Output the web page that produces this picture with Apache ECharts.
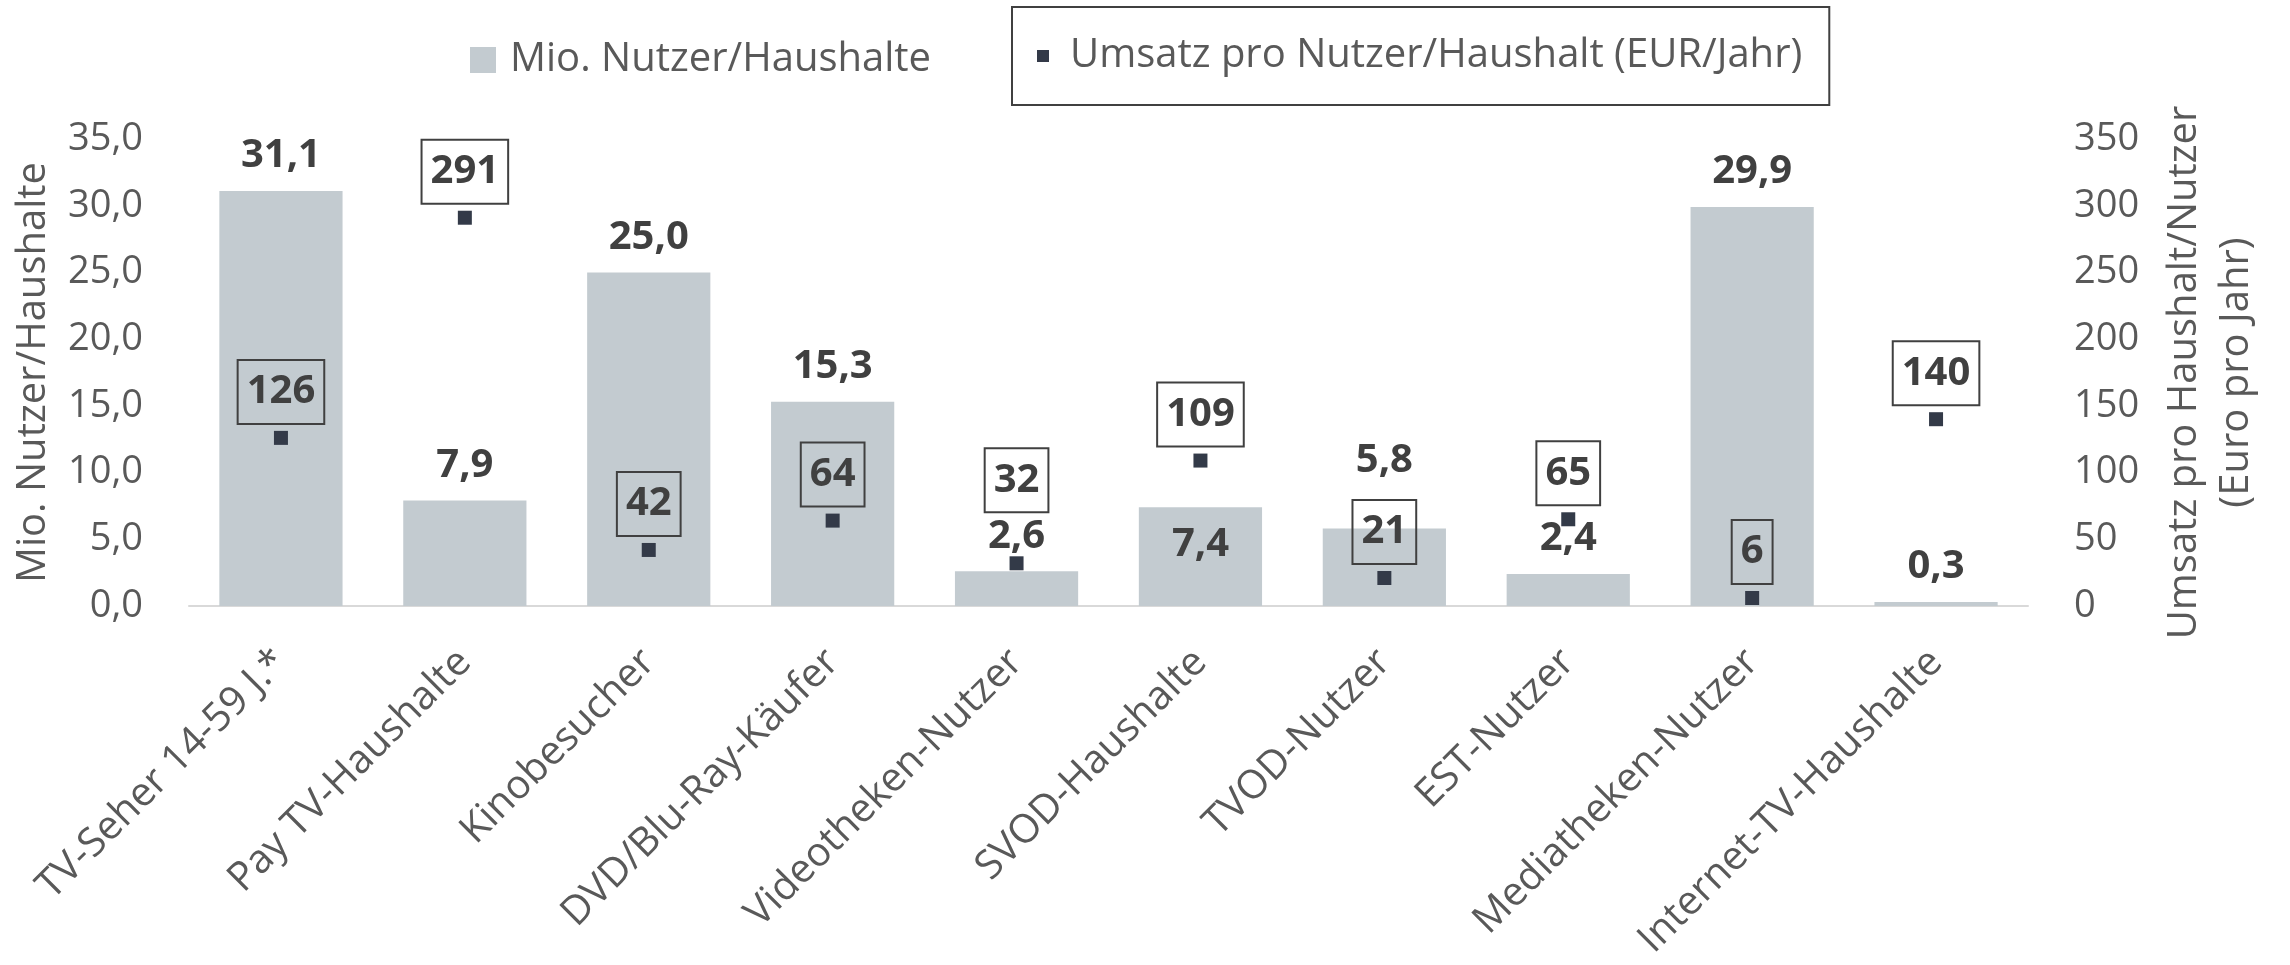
<!DOCTYPE html>
<html>
<head>
<meta charset="utf-8">
<script src="https://cdn.jsdelivr.net/npm/echarts@6/dist/echarts.min.js"></script>
<style>
html,body{margin:0;padding:0;background:#fff;}
#chart{width:2290px;height:965px;}
</style>
</head>
<body>
<div id="chart"></div>
<script>
const categories = ['TV-Seher 14-59 J.*', 'Pay TV-Haushalte', 'Kinobesucher', 'DVD/Blu-Ray-Käufer', 'Videotheken-Nutzer', 'SVOD-Haushalte', 'TVOD-Nutzer', 'EST-Nutzer', 'Mediatheken-Nutzer', 'Internet-TV-Haushalte'];
const users = [31.1, 7.9, 25.0, 15.3, 2.6, 7.4, 5.8, 2.4, 29.9, 0.3];
const revenue = [126, 291, 42, 64, 32, 109, 21, 65, 6, 140];
const leftTicks = { min: 0, max: 35, interval: 5 };
const rightTicks = { min: 0, max: 350, interval: 50 };
const seriesNames = ['Mio. Nutzer/Haushalte', 'Umsatz pro Nutzer/Haushalt (EUR/Jahr)'];
const axisNames = ['Mio. Nutzer/Haushalte', 'Umsatz pro Haushalt/Nutzer\n(Euro pro Jahr)'];

const FONT = 'Open Sans';
const AXIS_COLOR = '#595959';
const LABEL_COLOR = '#404040';
const BAR_COLOR = '#c3cbd0';
const MARK_COLOR = '#333a48';

// label placement overrides (style only)
const barLabelOverrides = {
  5: { position: 'insideTop', distance: 17 },
  6: { position: 'top', distance: 48 }
};
const markLabelOverrides = {
  4: { distance: 44 }
};

const fmt1 = v => v.toFixed(1).replace('.', ',');

const barData = users.map((v, i) => {
  const o = { value: v };
  if (barLabelOverrides[i]) o.label = barLabelOverrides[i];
  return o;
});
const markData = revenue.map((v, i) => {
  const o = { value: v };
  if (markLabelOverrides[i]) o.label = markLabelOverrides[i];
  return o;
});

const chart = echarts.init(document.getElementById('chart'), null, { renderer: 'canvas' });
chart.setOption({
  animation: false,
  backgroundColor: '#ffffff',
  textStyle: { fontFamily: FONT },
  grid: { left: 189, right: 262, top: 139, bottom: 359, containLabel: false },
  legend: [
    {
      data: [{ name: seriesNames[0], icon: 'rect' }],
      left: 470, top: 40, padding: 0,
      itemWidth: 26, itemHeight: 26,
      textStyle: { fontFamily: FONT, fontSize: 40, color: AXIS_COLOR, padding: [0, 0, 0, 9] },
      selectedMode: false
    },
    {
      data: [{ name: seriesNames[1], icon: 'rect' }],
      left: 1012, top: 7, padding: [29, 27, 29, 25],
      borderColor: '#404040', borderWidth: 2,
      itemWidth: 12, itemHeight: 12,
      itemStyle: { opacity: 1 },
      textStyle: { fontFamily: FONT, fontSize: 40, color: AXIS_COLOR, padding: [0, 0, 0, 16] },
      selectedMode: false
    }
  ],
  xAxis: {
    type: 'category',
    data: categories,
    axisLine: { show: true, lineStyle: { color: '#d9d9d9', width: 2 } },
    axisTick: { show: false },
    axisLabel: {
      interval: 0, rotate: 45, margin: 50,
      fontFamily: FONT, fontSize: 40, color: AXIS_COLOR
    }
  },
  yAxis: [
    {
      type: 'value', position: 'left',
      min: leftTicks.min, max: leftTicks.max, interval: leftTicks.interval,
      splitLine: { show: false }, axisLine: { show: false }, axisTick: { show: false },
      axisLabel: { margin: 46, fontFamily: FONT, fontSize: 38, color: AXIS_COLOR, formatter: v => fmt1(v) },
      name: axisNames[0], nameLocation: 'middle', nameRotate: 90, nameGap: 135,
      nameTextStyle: { fontFamily: FONT, fontSize: 40, color: AXIS_COLOR }
    },
    {
      type: 'value', position: 'right',
      min: rightTicks.min, max: rightTicks.max, interval: rightTicks.interval,
      splitLine: { show: false }, axisLine: { show: false }, axisTick: { show: false },
      axisLabel: { margin: 46, fontFamily: FONT, fontSize: 38, color: AXIS_COLOR },
      name: axisNames[1], nameLocation: 'middle', nameRotate: 90, nameGap: 131,
      nameTextStyle: { fontFamily: FONT, fontSize: 40, color: AXIS_COLOR, lineHeight: 52, align: 'center' }
    }
  ],
  series: [
    {
      name: seriesNames[0],
      type: 'bar',
      yAxisIndex: 0,
      data: barData,
      barCategoryGap: '33%',
      itemStyle: { color: BAR_COLOR },
      label: {
        show: true, position: 'top', distance: 15,
        fontFamily: FONT, fontSize: 40, fontWeight: 'bold', color: LABEL_COLOR, lineHeight: 40,
        formatter: p => fmt1(p.value)
      },
      z: 1
    },
    {
      name: seriesNames[1],
      type: 'scatter',
      yAxisIndex: 1,
      data: markData,
      symbol: 'rect',
      symbolSize: 14,
      itemStyle: { color: MARK_COLOR, opacity: 1 },
      label: {
        show: true, position: 'top', distance: 7,
        fontFamily: FONT, fontSize: 40, fontWeight: 'bold', color: LABEL_COLOR, lineHeight: 40,
        borderColor: '#404040', borderWidth: 2, padding: [12, 9, 12, 9],
        formatter: p => String(p.value)
      },
      z: 3
    }
  ]
});
</script>
</body>
</html>
